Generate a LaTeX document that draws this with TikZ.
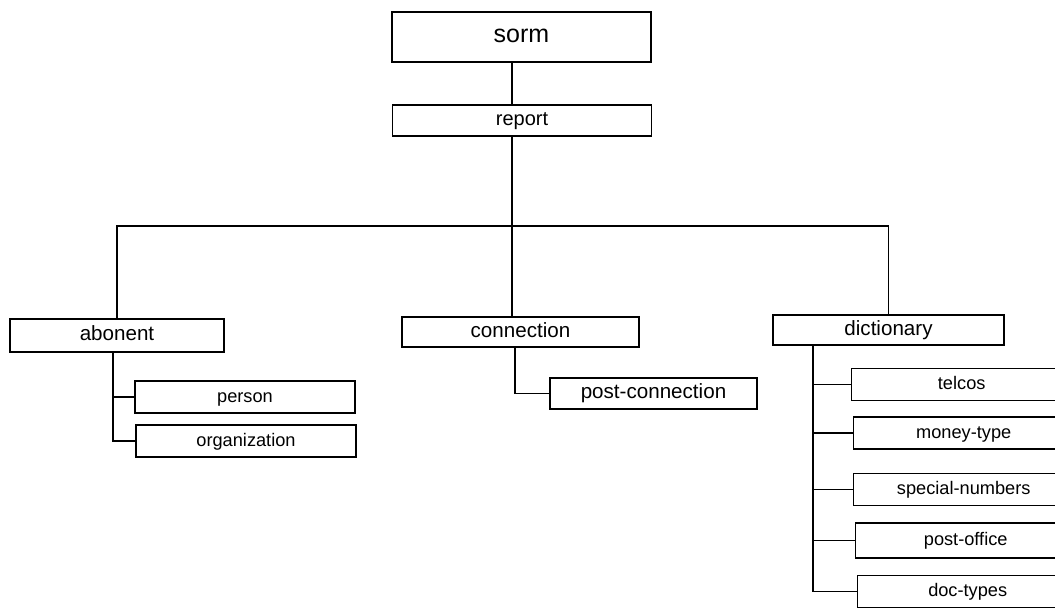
\documentclass[tikz,border=0pt]{standalone}
\usepackage{fontspec}
\setmainfont{Liberation Sans}
\usepackage{xcolor}

\begin{document}
\begin{tikzpicture}[x=0.5pt,y=-0.5pt,line width=0.7pt,
    box/.style={draw,inner sep=0pt,text height=1ex,text depth=0pt,font=\fontsize{10.3}{12}\selectfont},
    leaf/.style={box,minimum width=110pt,minimum height=16pt,font=\fontsize{9.1}{11}\selectfont}]
    \clip (0,0) rectangle (1055,609);
    \fill[white] (0,0) rectangle (1055,609);

    \node[box,minimum width=129.5pt,minimum height=25pt,font=\fontsize{12.5}{15}\selectfont] (sorm) at (521.5,37) {sorm};
    \node[box,minimum width=129.5pt,minimum height=15.5pt,font=\fontsize{10}{12}\selectfont] (rep) at (522,120.5) {report};

    \node[box,minimum width=107pt,minimum height=16.5pt] (ab) at (117,335.5) {abonent};
    \node[box,minimum width=118.5pt,minimum height=15pt] (con) at (520.5,332) {connection};
    \node[box,minimum width=115.5pt,minimum height=15pt] (dict) at (888.5,330) {dictionary};

    \node[leaf] (pers) at (245,397) {person};
    \node[leaf] (org) at (246,441) {organization};
    \node[box,minimum width=103.5pt,minimum height=15.5pt] (pcon) at (653.5,393.5) {post-connection};

    \node[leaf,anchor=west] (tel) at (851,384.5) {telcos};
    \node[leaf,anchor=west] (mon) at (853,433) {money-type};
    \node[leaf,anchor=west] (spec) at (853,489.5) {special-numbers};
    \node[leaf,anchor=west,minimum height=17.5pt] (po) at (855,540.5) {post-office};
    \node[leaf,anchor=west] (doc) at (857,591.5) {doc-types};

    \coordinate (bus) at (512,226);
    \coordinate (abr) at (113,0);
    \coordinate (conr) at (515,0);
    \coordinate (dictr) at (813,0);

    \draw (sorm.south -| bus) -- (rep.north -| bus);
    \draw (rep.south -| bus) -- (con.north -| bus);
    \draw (ab.north) |- (bus) -| (dict.north);

    \draw (ab.south -| abr) |- (org.west);
    \draw (abr |- pers.west) -- (pers.west);
    \draw (con.south -| conr) |- (pcon.west);
    \draw (dict.south -| dictr) |- (doc.west);
    \foreach \n in {tel,mon,spec,po}
        \draw (dictr |- \n.west) -- (\n.west);
\end{tikzpicture}
\end{document}
